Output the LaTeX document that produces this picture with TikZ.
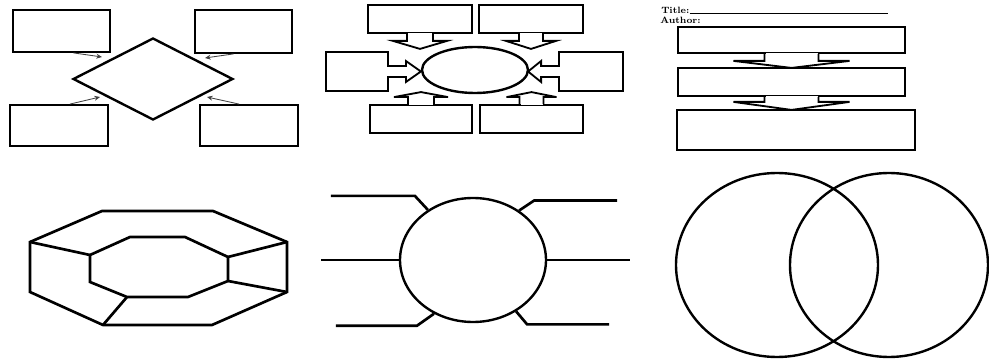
\documentclass[tikz,border=0pt]{standalone}
\usepackage{tikz}
\usetikzlibrary{positioning,arrows.meta,shapes.geometric,calc,fit}

\newcommand{\unitpx}{0.025cm}
% block-arrow callouts: anchor, shaft half, shoulder half, offset, tip
\newcommand{\vcallout}[5]{%
  \fill[white] ($(#1)+({-#2+1},{-0.2*(#4)})$) rectangle ($(#1)+({#2-1},#4)$);
  \draw[callout] ($(#1)+(-#2,0)$) -- ($(#1)+(-#2,#4)$) -- ($(#1)+(-#3,#4)$) -- (#5)
    -- ($(#1)+(#3,#4)$) -- ($(#1)+(#2,#4)$) -- ($(#1)+(#2,0)$);}
\newcommand{\hcallout}[5]{%
  \fill[white] ($(#1)+({-0.2*(#4)},{-#2+1})$) rectangle ($(#1)+(#4,{#2-1})$);
  \draw[callout] ($(#1)+(0,-#2)$) -- ($(#1)+(#4,-#2)$) -- ($(#1)+(#4,-#3)$) -- (#5)
    -- ($(#1)+(#4,#3)$) -- ($(#1)+(#4,#2)$) -- ($(#1)+(0,#2)$);}

\begin{document}
\begin{tikzpicture}[
  x=\unitpx, y=-\unitpx,
  box/.style={draw, line width=1.3pt, inner sep=0pt},
  heavybox/.style={box, line width=2pt},
  figure/.style={draw, line width=1.7pt, inner sep=0pt},
  callout/.style={line width=1.3pt, line join=miter},
  tailarrow/.style={line width=0.6pt, black!75, -{Stealth[length=4pt,width=3.5pt]}},
  edgeline/.style={line width=1.9pt, line join=miter},
  headtext/.style={font=\fontsize{6.5}{7}\selectfont\bfseries, inner sep=0pt, anchor=west}
]
\useasboundingbox (0,0) rectangle (989,360);

% Panel 1: diamond with four boxes
\node[box, fit={(13,10) (110,52)}] (p1a) {};
\node[box, fit={(195,10) (292,53)}] (p1b) {};
\node[box, fit={(10,105) (108,146)}] (p1c) {};
\node[box, fit={(200,105) (298,146)}] (p1d) {};
\node[figure, diamond, minimum width=160*\unitpx, minimum height=82*\unitpx] (d1) at (153,79) {};

\coordinate (t1a) at (102,57);
\coordinate (t1b) at (205,58);
\coordinate (t1c) at (100,97);
\coordinate (t1d) at (207,97);
\draw[tailarrow] ($(p1a.south)+(12,0)$) -- (t1a);
\draw[tailarrow] ($(p1b.south)+(-10,0)$) -- (t1b);
\draw[tailarrow] ($(p1c.north)+(11,0)$) -- (t1c);
\draw[tailarrow] ($(p1d.north)+(-10,0)$) -- (t1d);

% Panel 2: ellipse with six callouts
\node[box, fit={(368,5) (472,33)}] (p2a) {};
\node[box, fit={(479,5) (583,33)}] (p2b) {};
\node[box, fit={(326,52) (388,91)}] (p2c) {};
\node[box, fit={(559,52) (623,91)}] (p2d) {};
\node[box, fit={(370,105) (472,133)}] (p2e) {};
\node[box, fit={(480,105) (583,133)}] (p2f) {};
\node[figure, ellipse, minimum width=106*\unitpx, minimum height=46*\unitpx] (e2) at (475,70) {};

\coordinate (t2a) at ($(p2a.south)+(0,15)$);
\coordinate (t2b) at ($(p2b.south)+(0,15)$);
\coordinate (t2c) at ($(p2c.east)+(32,0)$);
\coordinate (t2d) at ($(p2d.west)+(-30,0)$);
\coordinate (t2e) at ($(p2e.north)+(0,-12)$);
\coordinate (t2f) at ($(p2f.north)+(0,-12)$);
\vcallout{p2a.south}{13}{27}{7}{t2a}
\vcallout{p2b.south}{12}{25}{7}{t2b}
\hcallout{p2c.east}{5.5}{10.5}{17}{t2c}
\hcallout{p2d.west}{5.5}{10.5}{-17}{t2d}
\vcallout{p2e.north}{13}{27}{-7}{t2e}
\vcallout{p2f.north}{12}{25}{-7}{t2f}

% Panel 3: sequence of boxes
\node[headtext] (ttl) at (661,10) {Title:};
\draw[line width=0.8pt] (ttl.south east) -- ++(198,0);
\node[headtext] (auth) at (660,20) {Author:};
\node[box, fit={(678,27) (905,53)}] (p3a) {};
\node[box, fit={(678,68) (905,96)}] (p3b) {};
\node[heavybox, fit={(677,110) (915,150)}] (p3c) {};

\coordinate (t3a) at ($(p3a.south)+(0,14)$);
\coordinate (t3b) at ($(p3b.south)+(0,13)$);
\vcallout{p3a.south}{27}{58}{7}{t3a}
\vcallout{p3b.south}{27}{58}{5}{t3b}

% Panel 4: octagonal ring
\draw[edgeline] (30,242) -- (102,211) -- (213,211) -- (287,242) -- (287,292)
  -- (212,325) -- (103,325) -- (30,292) -- cycle;
\draw[edgeline] (90,255) -- (130,237) -- (185,237) -- (228,257) -- (228,281)
  -- (188,297) -- (127,297) -- (90,282) -- cycle;
\draw[edgeline] (30,242) -- (90,255);
\draw[edgeline] (287,242) -- (228,257);
\draw[edgeline] (287,292) -- (228,281);
\draw[edgeline] (103,325) -- (127,297);

% Panel 5: circle with six legs
\node[figure, ellipse, minimum width=146*\unitpx, minimum height=124*\unitpx] (c5) at (473,260) {};
\draw[edgeline] (c5.132) -- ++(-13,-14) -- ++(-84,0);
\draw[edgeline] (c5.west) -- ++(-78,0);
\draw[edgeline] (c5.234) -- ++(-17,12) -- ++(-81,0);
\draw[edgeline] (c5.47) -- ++(15,-10) -- ++(83,0);
\draw[edgeline] (c5.east) -- ++(83,0);
\draw[edgeline] (c5.310) -- ++(11,13) -- ++(82,0);

% Panel 6: two overlapping circles
\node[figure, ellipse, minimum width=202*\unitpx, minimum height=184*\unitpx] (v1) at (777,265) {};
\node[figure, ellipse, minimum width=198*\unitpx, minimum height=184*\unitpx] (v2) at (889,265) {};

\end{tikzpicture}
\end{document}
